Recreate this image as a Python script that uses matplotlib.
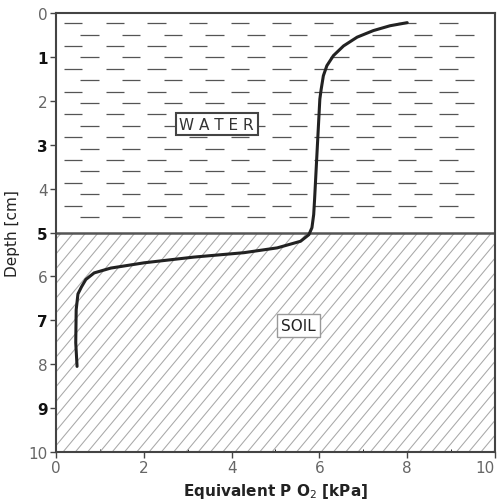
import numpy as np
import matplotlib
matplotlib.use('Agg')
import matplotlib.pyplot as plt
from matplotlib.collections import LineCollection
from matplotlib.patches import Rectangle

# curve
po2 = [8.0, 7.61, 7.23, 6.86, 6.55, 6.32, 6.17, 6.09, 6.04, 6.01, 5.95, 5.89,
       5.87, 5.83, 5.76, 5.57, 5.04, 4.28, 3.14, 2.01, 1.25, 0.87, 0.68, 0.58,
       0.5, 0.46, 0.45, 0.48]
depth = [0.22, 0.29, 0.40, 0.55, 0.75, 0.97, 1.20, 1.43, 1.74, 1.96, 3.1, 4.25,
         4.59, 4.89, 5.05, 5.2, 5.35, 5.46, 5.56, 5.69, 5.81, 5.92, 6.07, 6.24,
         6.4, 6.76, 7.51, 8.05]

y_ticks = list(range(11))
x_ticks = [0, 2, 4, 6, 8, 10]
boundary = 5

fig = plt.figure(figsize=(4.99, 5.02), dpi=100)
ax = fig.add_axes([0.1122, 0.0976, 0.8798, 0.8745])
ax.set_xlim(0, 10)
ax.set_ylim(10, 0)

# water texture: staggered short dashes
segs = []
for k in range(18):
    yy = 0.23 + k * 0.26
    start = 0.18 if k % 2 == 0 else 0.55
    xx = start
    while xx + 0.42 < 9.85:
        segs.append([(xx, yy), (xx + 0.42, yy)])
        xx += 0.95
ax.add_collection(LineCollection(segs, colors='#555555', linewidths=0.9))

# soil hatch
clip = Rectangle((0, boundary), 10, 5, transform=ax.transData, facecolor='none', edgecolor='none')
ax.add_patch(clip)
xs = np.array([-10.0, 12.0])
for x0 in np.arange(-6, 12, 0.28):
    ln, = ax.plot(xs, 10 - 1.2 * (xs - x0), color='#a8a8a8', lw=0.75)
    ln.set_clip_path(clip)

ax.axhline(boundary, color='#555555', lw=1.8)

ax.plot(po2, depth, color='#222222', lw=2.2, solid_capstyle='round', solid_joinstyle='round')

ax.text(3.66, 2.53, 'W A T E R', ha='center', va='center', fontsize=11, color='#333333',
        bbox=dict(boxstyle='square,pad=0.25', fc='white', ec='#444444', lw=1.5))
ax.text(5.52, 7.12, 'SOIL', ha='center', va='center', fontsize=11, color='#222222',
        bbox=dict(boxstyle='square,pad=0.25', fc='white', ec='#999999', lw=1))

ax.set_yticks(y_ticks)
ax.set_xticks(x_ticks)
ax.set_xticks([1, 3, 5, 7, 9], minor=True)
ax.tick_params(axis='both', length=4, width=1, color='#444444', labelsize=11, pad=2)
ax.tick_params(axis='x', which='minor', direction='in', length=2)
for lab, t in zip(ax.get_yticklabels(), y_ticks):
    if t % 2 == 1:
        lab.set_fontweight('bold')
        lab.set_color('#111111')
    else:
        lab.set_color('#666666')
for lab in ax.get_xticklabels():
    lab.set_color('#666666')
ax.get_xticklabels()[-1].set_horizontalalignment('right')

for s in ax.spines.values():
    s.set_color('#444444')
    s.set_linewidth(1.5)

ax.set_ylabel('Depth [cm]', fontsize=11, color='#222222', labelpad=6)
ax.set_xlabel('Equivalent P O$_2$ [kPa]', fontsize=11, fontweight='bold', color='#222222', labelpad=4)

fig.savefig('out.png', dpi=100)
